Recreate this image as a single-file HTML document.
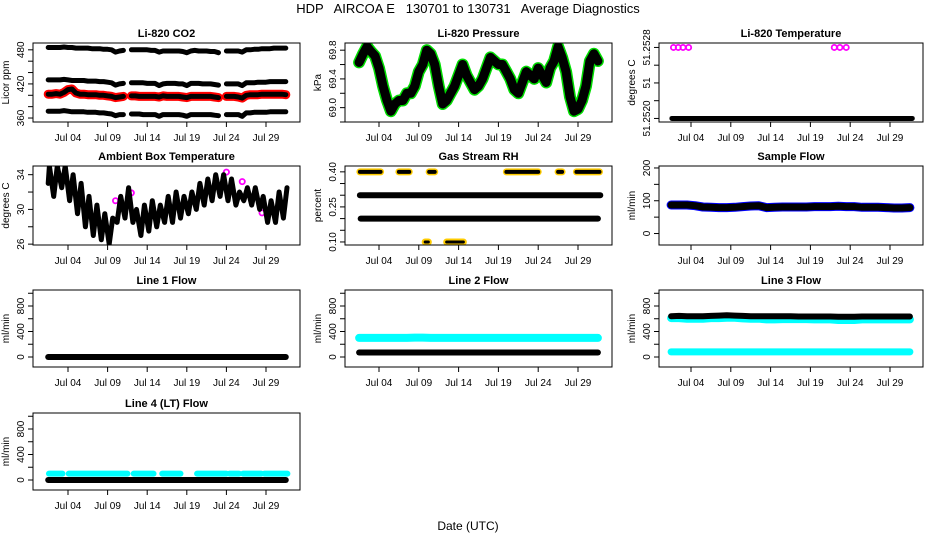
<!DOCTYPE html>
<html><head><meta charset="utf-8"><style>
html,body{margin:0;padding:0;background:#fff}
svg{display:block;font-family:"Liberation Sans",sans-serif}
</style></head><body>
<svg id="chart" width="936" height="540" viewBox="0 0 936 540" xmlns="http://www.w3.org/2000/svg">
<text x="468" y="13" text-anchor="middle" font-size="13" xml:space="preserve">HDP   AIRCOA E   130701 to 130731   Average Diagnostics</text>
<text x="468" y="530" text-anchor="middle" font-size="12">Date (UTC)</text>
</svg>
<script>
// ---- data ----
const dateTicks = [4, 9, 14, 19, 24, 29];
const dateLabels = ["Jul 04", "Jul 09", "Jul 14", "Jul 19", "Jul 24", "Jul 29"];
const tHalf = []; for (let k = 0; k <= 60; k++) tHalf.push(1.5 + 0.5 * k);
const tDay = []; for (let d = 1; d <= 31; d++) tDay.push(d + 0.5);

const co2A = [484,484,484,484,485,484,484,483,483,483, 483,482,482,482,481,481,480,476,478,479, null,480,480,480,480,480,479,479,476,478, 478,478,478,478,477,475,478,479,478,478, 478,477,477,475,null,478,478,478,478,476, 480,480,481,481,482,482,482,483,483,483,483];
const co2B = [427,427,427,427,428,427,426,426,426,426, 425,425,425,424,424,423,422,418,420,421, null,422,422,422,422,421,421,421,417,420, 421,421,421,420,420,417,421,421,421,420, 420,420,419,418,null,420,420,420,420,417, 422,422,422,423,423,423,424,424,424,424,424];
const co2C = [402,402,403,402,405,410,411,404,402,402, 401,401,401,400,400,399,398,396,397,398, null,399,399,398,398,398,398,398,397,399, 398,398,398,398,397,396,398,398,398,398, 398,398,397,396,null,398,398,398,397,395, 400,401,401,401,402,402,402,402,402,402,401];
const co2D = [372,372,372,372,373,372,371,371,371,371, 370,370,370,369,369,368,367,364,366,366, null,367,367,367,366,366,366,366,363,366, 366,366,366,366,365,363,366,366,366,366, 366,366,365,364,null,366,366,366,366,363, 369,369,370,370,370,370,371,371,371,371,371];
const pressure = [69.63,69.75,69.85,69.78,69.72,69.55,69.3,69.1,68.95,69.05,69.1,69.1,69.2,69.2,69.3,69.5,69.6,69.8,69.75,69.6,69.3,69.05,69.1,69.2,69.3,69.45,69.6,69.45,69.35,69.25,69.3,69.4,69.55,69.7,69.65,69.6,69.6,69.5,69.4,69.25,69.2,69.35,69.5,69.45,69.4,69.55,69.45,69.35,69.55,69.65,69.85,69.7,69.5,69.15,68.95,68.98,69.1,69.3,69.65,69.75,69.65];
const tempHiDays = [1.8, 2.4, 3.0, 3.7, 22.0, 22.7, 23.5];
const tempHiVal = 51.2528;
const tempBase = 51.2520;
const ambMax = [35,35,35,34,33,31.5,30.5,29.5,29,31.5,32.5,30,30.5,31,30.5,31.5,32,31.5,32,33,33.5,34,34,33.5,32,32.5,32.5,31.5,31,32,32.5];
const ambMin = [33,31.5,32.5,31,29.5,28,27,26.5,26,28.5,29,28.5,27,27.5,28,28.5,28.5,29,29.5,30,30.5,31,31.5,31,30.5,31,30.5,30,28.5,28.5,29];
const ambOutT = [10, 12, 24, 26, 28.5];
const ambOutV = [31, 31.9, 34.3, 33.2, 29.6];
const rh40Start = [1.6, 6.5, 10.3, 20, 26.5, 28.8];
const rh40End = [4.2, 7.8, 11, 24, 27, 31.7];
const rh10Start = [9.8, 12.5];
const rh10End = [10.2, 14.6];
const sampleFlow = [87,87,87,85,81,80,79,79,80,82,84,85,79,80,81,81,81,81,82,82,82,83,82,82,80,80,80,79,78,78,79];
const line1Flow = [0,0,0,0,0,0,0,0,0,0,0,0,0,0,0,0,0,0,0,0,0,0,0,0,0,0,0,0,0,0,0];
const line2Cyan = [300,300,300,300,300,300,300,305,305,300,300,300,300,300,300,300,300,300,300,300,300,300,300,300,300,300,300,300,300,300,300];
const line2Black = [70,70,70,70,70,70,70,70,70,70,70,70,70,70,70,70,70,70,70,70,70,70,70,70,70,70,70,70,70,70,70];
const line3Black = [640,645,640,640,640,645,650,655,650,645,640,640,640,640,640,640,635,635,635,635,635,630,630,630,635,635,635,635,635,635,635];
const line3Cyan = [610,610,600,600,600,610,610,615,615,605,600,600,590,590,595,595,595,595,590,590,590,580,580,580,590,590,590,590,590,590,590];
const line3Low = [80,80,80,80,80,80,80,80,80,80,80,80,80,80,80,80,80,80,80,80,80,80,80,80,80,80,80,80,80,80,80];
const line4Black = [0,0,0,0,0,0,0,0,0,0,0,0,0,0,0,0,0,0,0,0,0,0,0,0,0,0,0,0,0,0,0];
const line4Start = [1.6, 4.1, 12.3, 15.9, 20.3, 24.4, 26.1, 28.8];
const line4End = [3.3, 11.5, 14.8, 18.2, 24.0, 25.6, 28.4, 31.7];
const line4Level = 100;

// ---- layout ----
const NS = "http://www.w3.org/2000/svg";
const svg = document.getElementById("chart");
const cols = [{x0:33,x1:300,a:68,b:266},{x0:345,x1:612,a:379,b:578},{x0:659,x1:923,a:691,b:890}];
const rows = [{y0:43,y1:122},{y0:166,y1:245},{y0:290,y1:367},{y0:413,y1:490}];
let clipId = 0;
function mk(tag, attrs, parent){const e=document.createElementNS(NS,tag);for(const k in attrs)e.setAttribute(k,attrs[k]);(parent||svg).appendChild(e);return e;}

function panel(c, r, title, ylab, yTop, yBot, ticks, labels){
  const C = cols[c], R = rows[r];
  const g = mk("g", {});
  
  
  const P = {
    g: g,
    x: d => C.a + (d - 4) * (C.b - C.a) / 25,
    y: v => R.y0 + (yTop - v) * (R.y1 - R.y0) / (yTop - yBot)
  };
  const id = "clip" + (clipId++);
  const cp = mk("clipPath", {id: id}, g);
  mk("rect", {x: C.x0, y: R.y0, width: C.x1 - C.x0, height: R.y1 - R.y0}, cp);
  P.data = mk("g", {"clip-path": "url(#" + id + ")"}, g);
  
  
  const t = mk("text", {x: (C.x0 + C.x1) / 2, y: R.y0 - 6, "text-anchor": "middle", "font-size": 11, "font-weight": "bold"}, g);
  t.textContent = title;
  
  
  const yl = mk("text", {transform: "translate(" + (C.x0 - 24) + "," + ((R.y0 + R.y1) / 2) + ") rotate(-90)", "text-anchor": "middle", "font-size": 10}, g);
  yl.textContent = ylab;
  
  
  ticks.forEach((v, i) => {
    const yy = P.y(v);
    mk("line", {x1: C.x0 - 5, x2: C.x0, y1: yy, y2: yy, stroke: "#000"}, g);
    if (labels[i]) {
      const tl = mk("text", {transform: "translate(" + (C.x0 - 9) + "," + yy + ") rotate(-90)", "text-anchor": "middle", "font-size": 10}, g);
      tl.textContent = labels[i];
      
      
    }
  });
  dateTicks.forEach((d, i) => {
    const xx = P.x(d);
    mk("line", {x1: xx, x2: xx, y1: R.y1, y2: R.y1 + 5, stroke: "#000"}, g);
    const xl = mk("text", {x: xx, y: R.y1 + 19, "text-anchor": "middle", "font-size": 10}, g);
    xl.textContent = dateLabels[i];
    
    
  });
  const box = mk("rect", {x: C.x0, y: R.y0, width: C.x1 - C.x0, height: R.y1 - R.y0, fill: "none", stroke: "#000"}, g);
  
  
  return P;
}

function series(P, ts, vs, color, w, name){
  let d = "", pen = false;
  ts.forEach((t, i) => {
    const v = vs[i];
    if (v === null || v === undefined) { pen = false; return; }
    d += (pen ? "L" : "M") + P.x(t).toFixed(1) + " " + P.y(v).toFixed(1) + " ";
    pen = true;
  });
  const p = mk("path", {d: d, fill: "none", stroke: color, "stroke-width": w, "stroke-linecap": "round", "stroke-linejoin": "round"}, P.data);
  
  
  return p;
}
function segs(P, starts, ends, level, color, w, name){
  starts.forEach((s, i) => {
    const l = mk("line", {x1: P.x(s), x2: P.x(ends[i]), y1: P.y(level), y2: P.y(level), stroke: color, "stroke-width": w, "stroke-linecap": "round"}, P.data);
    
    
  });
}
function dots(P, ts, vs, color, name){
  ts.forEach((t, i) => {
    const c = mk("circle", {cx: P.x(t), cy: P.y(vs[i]), r: 2.6, fill: "none", stroke: color, "stroke-width": 1.8}, P.data);
    
    
  });
}

// CO2
let P = panel(0, 0, "Li-820 CO2", "Licor ppm", 492, 353, [360,380,400,420,440,460,480], ["360","","","420","","","480"]);
series(P, tHalf, co2C, "#f00", 9, "co2-red-series");
series(P, tHalf, co2A, "#000", 5, "co2-high-series");
series(P, tHalf, co2B, "#000", 5, "co2-mid-series");
series(P, tHalf, co2C, "#000", 5, "co2-series");
series(P, tHalf, co2D, "#000", 5, "co2-low-series");

// Pressure
P = panel(1, 0, "Li-820 Pressure", "kPa", 69.9, 68.8, [68.8,69.0,69.2,69.4,69.6,69.8], ["","69.0","","69.4","","69.8"]);
series(P, tHalf, pressure, "#0d0", 12, "pressure-green-series");
series(P, tHalf, pressure, "#000", 9, "pressure-series");

// Temperature
P = panel(2, 0, "Li-820 Temperature", "degrees C", 51.25285, 51.25196, [51.2520,51.2522,51.2524,51.2526,51.2528], ["51.2520","","51","","51.2528"]);
segs(P, [1.6], [31.8], tempBase, "#000", 5, "temperature-series");
dots(P, tempHiDays, tempHiDays.map(() => tempHiVal), "#f0f", "temperature-outlier");

// Ambient
P = panel(0, 1, "Ambient Box Temperature", "degrees C", 35, 25.9, [26,28,30,32,34], ["26","","30","","34"]);
const ambT = [], ambV = [];
ambMax.forEach((mx, i) => { const d = i + 1; ambT.push(Math.max(d + 0.2, 1.5)); ambV.push(ambMin[i]); ambT.push(Math.min(d + 0.65, 31.8)); ambV.push(mx); });
dots(P, ambOutT, ambOutV, "#f0f", "ambient-outlier");
series(P, ambT, ambV, "#000", 5, "ambient-temperature-series");

// RH
P = panel(1, 1, "Gas Stream RH", "percent", 0.425, 0.087, [0.10,0.15,0.20,0.25,0.30,0.35,0.40], ["0.10","","","0.25","","","0.40"]);
segs(P, [1.6], [31.8], 0.30, "#000", 6, "rh-030-series");
segs(P, [1.7], [31.5], 0.20, "#000", 6, "rh-020-series");
segs(P, rh40Start, rh40End, 0.40, "#fc0", 7, "rh-040-yellow");
segs(P, rh40Start, rh40End, 0.40, "#000", 4, "rh-040-series");
segs(P, rh10Start, rh10End, 0.10, "#fc0", 7, "rh-010-yellow");
segs(P, rh10Start, rh10End, 0.10, "#000", 3, "rh-010-series");

// Sample flow
P = panel(2, 1, "Sample Flow", "ml/min", 206, -35, [0,50,100,150,200], ["0","","100","","200"]);
series(P, tDay, sampleFlow, "#00f", 9, "sample-flow-blue");
series(P, tDay, sampleFlow, "#000", 7, "sample-flow-series");

const flowTicks = [0,200,400,600,800,1000], flowLabels = ["0","","400","","800",""];
// Line 1
P = panel(0, 2, "Line 1 Flow", "ml/min", 1051, -157, flowTicks, flowLabels);
series(P, tDay, line1Flow, "#000", 6, "line1-flow-series");
// Line 2
P = panel(1, 2, "Line 2 Flow", "ml/min", 1051, -157, flowTicks, flowLabels);
series(P, tDay, line2Cyan, "#0ff", 8, "line2-cyan-series");
series(P, tDay, line2Black, "#000", 6, "line2-flow-series");
// Line 3
P = panel(2, 2, "Line 3 Flow", "ml/min", 1051, -157, flowTicks, flowLabels);
series(P, tDay, line3Cyan, "#0ff", 8, "line3-cyan-series");
series(P, tDay, line3Black, "#000", 6, "line3-flow-series");
series(P, tDay, line3Low, "#0ff", 7, "line3-low-series");
// Line 4
P = panel(0, 3, "Line 4 (LT) Flow", "ml/min", 1051, -157, flowTicks, flowLabels);
segs(P, line4Start, line4End, line4Level, "#0ff", 6, "line4-cyan-series");
series(P, tDay, line4Black, "#000", 6, "line4-flow-series");
</script>
</body></html>
